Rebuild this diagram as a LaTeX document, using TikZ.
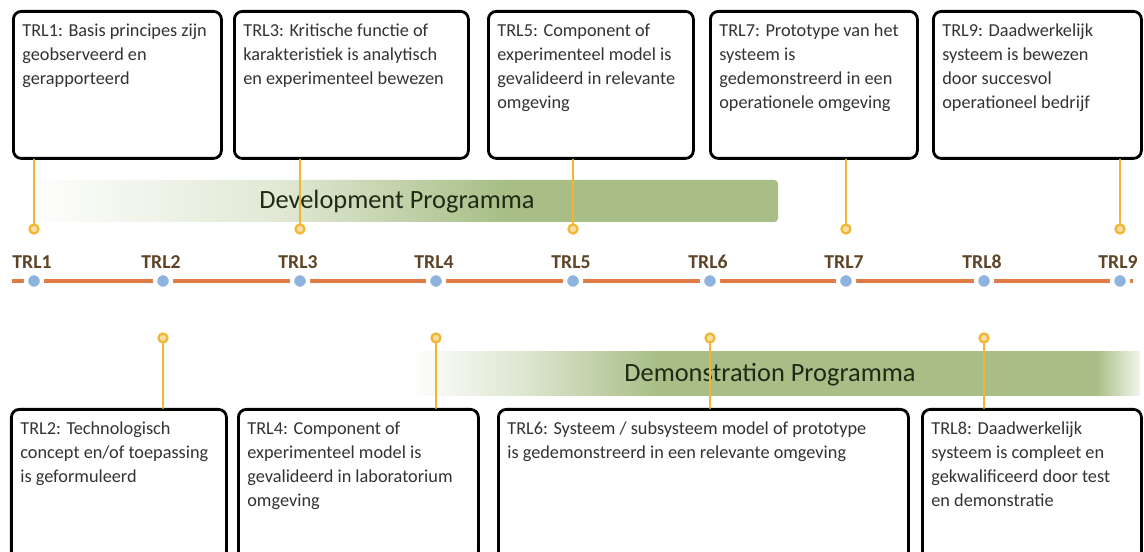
\documentclass[tikz,border=0pt]{standalone}
\usepackage{fontspec}
\setmainfont{Carlito}
\usepackage{xcolor}
\usetikzlibrary{positioning}
\definecolor{bandgreen}{HTML}{A8BE86}
\definecolor{lineorange}{HTML}{E07B45}
\definecolor{dotblue}{HTML}{8DB3DE}
\definecolor{pingold}{HTML}{F2B632}
\definecolor{labelbrown}{HTML}{5E4326}
\definecolor{boxtext}{HTML}{333333}
\definecolor{bandtext}{HTML}{1F2A16}
\pgfdeclarehorizontalshading{devfade}{100bp}{color(0bp)=(white); color(25bp)=(white); color(42bp)=(bandgreen!35!white); color(57bp)=(bandgreen); color(100bp)=(bandgreen)}
\pgfdeclarehorizontalshading{demofade}{100bp}{color(0bp)=(white); color(25bp)=(white); color(33bp)=(bandgreen!40!white); color(42bp)=(bandgreen); color(72bp)=(bandgreen); color(75bp)=(bandgreen!15!white); color(100bp)=(bandgreen!15!white)}

\begin{document}
\begin{tikzpicture}[
		line cap=round,
		line join=round,
		trlbox/.style={draw=black, line width=1.6pt, rounded corners=4.5pt, fill=white, anchor=north west, inner sep=0pt},
		trltext/.style={inner sep=0pt, align=left, text=boxtext, font=\fontsize{10.4}{13.6}\selectfont},
		trldot/.style={circle, fill=dotblue, draw=white, line width=2.4pt, minimum size=0.32cm, inner sep=0pt},
		trllabel/.style={inner sep=0pt, text=labelbrown, font=\fontsize{11.2}{12}\selectfont\bfseries},
		pinend/.style={circle, fill=pingold!45!white, draw=pingold, line width=1.3pt, minimum size=0.18cm, inner sep=0pt},
		pinline/.style={pingold, line width=1.5pt},
		bandlabel/.style={inner sep=0pt, text=bandtext, font=\fontsize{15}{18}\selectfont}
		]
		\useasboundingbox (0,0) rectangle (22.88,11.02);
		\clip (0,0) rectangle (22.88,11.02);
		
		% programme bands
		\shade[shading=devfade, rounded corners=2pt] (0.44,6.58) rectangle (15.56,7.42);
		\shade[shading=demofade] (8.20,3.12) rectangle (22.80,3.98);
		\node[bandlabel] (devprog) at (7.94,6.98) {Development Programma};
		\node[bandlabel] (demoprog) at (15.40,3.52) {Demonstration Programma};
		
		% timeline
		\coordinate (tlstart) at (0.24,5.40);
		\coordinate (tlend) at (22.66,5.40);
		\draw[lineorange, line width=2.2pt, line cap=butt] (tlstart) -- (tlend);
		\foreach \n/\x in {1/0.68,2/3.26,3/6.00,4/8.72,5/11.46,6/14.20,7/16.92,8/19.68,9/22.40} {
			\node[trldot] (d\n) at (\x,5.40) {};
			\node[trllabel] (l\n) at (\x-0.04,5.78) {TRL\n};
		}
		
		% boxes above the line
		\node[trlbox, minimum width=4.16cm, minimum height=2.94cm] (b1) at (0.24,10.82) {};
		\node[trltext, below right=0.27cm and 0.2cm of b1.north west] (t1) {TRL1: Basis principes zijn\\geobserveerd en\\gerapporteerd};
		\node[trlbox, minimum width=4.68cm, minimum height=2.94cm] (b3) at (4.66,10.82) {};
		\node[trltext, below right=0.27cm and 0.2cm of b3.north west] (t3) {TRL3: Kritische functie of\\karakteristiek is analytisch\\en experimenteel bewezen};
		\node[trlbox, minimum width=4.10cm, minimum height=2.94cm] (b5) at (9.74,10.82) {};
		\node[trltext, below right=0.27cm and 0.2cm of b5.north west] (t5) {TRL5: Component of\\experimenteel model is\\gevalideerd in relevante\\omgeving};
		\node[trlbox, minimum width=4.14cm, minimum height=2.94cm] (b7) at (14.18,10.82) {};
		\node[trltext, below right=0.27cm and 0.2cm of b7.north west] (t7) {TRL7: Prototype van het\\systeem is\\gedemonstreerd in een\\operationele omgeving};
		\node[trlbox, minimum width=4.16cm, minimum height=2.94cm] (b9) at (18.64,10.82) {};
		\node[trltext, below right=0.27cm and 0.2cm of b9.north west] (t9) {TRL9: Daadwerkelijk\\systeem is bewezen\\door succesvol\\operationeel bedrijf};
		
		% boxes below the line
		\node[trlbox, minimum width=4.30cm, minimum height=3.0cm] (b2) at (0.20,2.86) {};
		\node[trltext, below right=0.27cm and 0.2cm of b2.north west] (t2) {TRL2: Technologisch\\concept en/of toepassing\\is geformuleerd};
		\node[trlbox, minimum width=4.80cm, minimum height=3.0cm] (b4) at (4.74,2.86) {};
		\node[trltext, below right=0.27cm and 0.2cm of b4.north west] (t4) {TRL4: Component of\\experimenteel model is\\gevalideerd in laboratorium\\omgeving};
		\node[trlbox, minimum width=8.20cm, minimum height=3.0cm] (b6) at (9.94,2.86) {};
		\node[trltext, below right=0.27cm and 0.2cm of b6.north west] (t6) {TRL6: Systeem / subsysteem model of prototype\\is gedemonstreerd in een relevante omgeving};
		\node[trlbox, minimum width=4.38cm, minimum height=3.0cm] (b8) at (18.42,2.86) {};
		\node[trltext, below right=0.27cm and 0.2cm of b8.north west] (t8) {TRL8: Daadwerkelijk\\systeem is compleet en\\gekwalificeerd door test\\en demonstratie};
		
		% pins from the boxes
		\foreach \n/\x in {1/0.68,3/6.00,5/11.46,7/16.92,9/22.40} {
			\node[pinend] (p\n) at (\x,6.44) {};
			\draw[pinline] (p\n |- b\n.south) -- (p\n);
		}
		\foreach \n/\x in {2/3.26,4/8.72,6/14.20,8/19.68} {
			\node[pinend] (p\n) at (\x,4.26) {};
			\draw[pinline] (p\n |- b\n.north) -- (p\n);
		}
		
	\end{tikzpicture}
\end{document}
